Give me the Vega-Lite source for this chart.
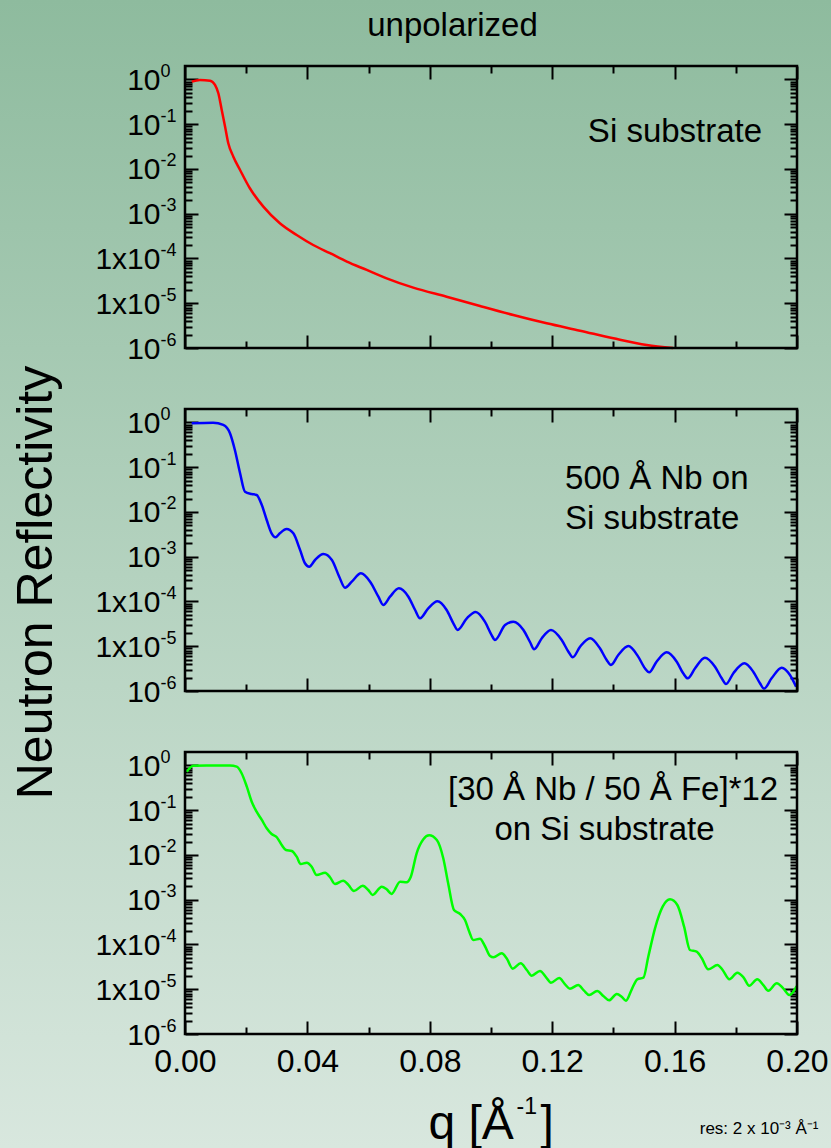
{
  "$schema": "https://vega.github.io/schema/vega-lite/v6.json",
  "width": 831,
  "height": 1148,
  "autosize": {"type": "none"},
  "padding": 0,
  "background": "#b4d2bf",
  "view": {"stroke": null, "fill": {"gradient": "linear", "x1": 0, "y1": 0, "x2": 0, "y2": 1, "stops": [{"offset": 0, "color": "#8ebb9e"}, {"offset": 0.5, "color": "#b4d2bf"}, {"offset": 1, "color": "#d8e7de"}]}},
  "datasets": {
    "si": [
      {"q": 0.0022, "R": 0.893}, {"q": 0.0049, "R": 0.975}, {"q": 0.0082, "R": 0.94}, {"q": 0.0098, "R": 0.753},
      {"q": 0.0109, "R": 0.492}, {"q": 0.012, "R": 0.208}, {"q": 0.0131, "R": 0.0881}, {"q": 0.01415, "R": 0.0375},
      {"q": 0.0158, "R": 0.01884}, {"q": 0.018, "R": 0.0095}, {"q": 0.0212, "R": 0.00371}, {"q": 0.0256, "R": 0.00144},
      {"q": 0.031, "R": 0.000612}, {"q": 0.0365, "R": 0.000335}, {"q": 0.0419, "R": 0.0002}, {"q": 0.0474, "R": 0.000131},
      {"q": 0.0529, "R": 0.0000849}, {"q": 0.0594, "R": 0.0000554}, {"q": 0.0659, "R": 0.0000361}, {"q": 0.0746, "R": 0.0000223},
      {"q": 0.0855, "R": 0.000014}, {"q": 0.0964, "R": 0.00000868}, {"q": 0.1073, "R": 0.00000546}, {"q": 0.1182, "R": 0.00000356},
      {"q": 0.1291, "R": 0.00000244}, {"q": 0.14, "R": 0.00000165}, {"q": 0.1509, "R": 0.00000117}, {"q": 0.1595, "R": 0.000001}
    ],
    "nb": [
      {"q": 0.0022, "R": 0.96}, {"q": 0.0092, "R": 0.99}, {"q": 0.0125, "R": 0.88}, {"q": 0.0147, "R": 0.574},
      {"q": 0.0163, "R": 0.243}, {"q": 0.018, "R": 0.0733}, {"q": 0.0196, "R": 0.0284}, {"q": 0.0218, "R": 0.0252},
      {"q": 0.0234, "R": 0.024}, {"q": 0.0251, "R": 0.0143}, {"q": 0.0267, "R": 0.00662}, {"q": 0.0283, "R": 0.00334},
      {"q": 0.0296, "R": 0.00272}, {"q": 0.031, "R": 0.00334}, {"q": 0.0332, "R": 0.00417}, {"q": 0.0354, "R": 0.00334},
      {"q": 0.0376, "R": 0.00142}, {"q": 0.0392, "R": 0.000714}, {"q": 0.0406, "R": 0.0006}, {"q": 0.0425, "R": 0.000846},
      {"q": 0.0452, "R": 0.00115}, {"q": 0.048, "R": 0.000846}, {"q": 0.0504, "R": 0.000358}, {"q": 0.0523, "R": 0.000203},
      {"q": 0.0545, "R": 0.000277}, {"q": 0.0575, "R": 0.000427}, {"q": 0.0605, "R": 0.000277}, {"q": 0.0632, "R": 0.000128},
      {"q": 0.0648, "R": 0.0000835}, {"q": 0.067, "R": 0.000128}, {"q": 0.0699, "R": 0.000197}, {"q": 0.073, "R": 0.000128},
      {"q": 0.0752, "R": 0.0000646}, {"q": 0.0768, "R": 0.0000421}, {"q": 0.0795, "R": 0.0000705}, {"q": 0.0825, "R": 0.000101},
      {"q": 0.0855, "R": 0.0000646}, {"q": 0.0877, "R": 0.0000326}, {"q": 0.0891, "R": 0.0000231}, {"q": 0.0921, "R": 0.0000421},
      {"q": 0.095, "R": 0.0000582}, {"q": 0.098, "R": 0.0000354}, {"q": 0.1002, "R": 0.0000178}, {"q": 0.1013, "R": 0.0000138},
      {"q": 0.1046, "R": 0.0000299}, {"q": 0.1073, "R": 0.0000354}, {"q": 0.1106, "R": 0.0000231}, {"q": 0.1127, "R": 0.0000126},
      {"q": 0.1141, "R": 0.00000855}, {"q": 0.1166, "R": 0.0000151}, {"q": 0.1196, "R": 0.0000231}, {"q": 0.1231, "R": 0.0000138},
      {"q": 0.1253, "R": 0.00000755}, {"q": 0.1267, "R": 0.00000566}, {"q": 0.1291, "R": 0.00000977}, {"q": 0.1324, "R": 0.0000151},
      {"q": 0.1356, "R": 0.000009}, {"q": 0.1378, "R": 0.00000493}, {"q": 0.1392, "R": 0.00000381}, {"q": 0.1416, "R": 0.00000637},
      {"q": 0.1449, "R": 0.0000101}, {"q": 0.1481, "R": 0.00000585}, {"q": 0.1503, "R": 0.00000322}, {"q": 0.1517, "R": 0.00000262},
      {"q": 0.1541, "R": 0.00000452}, {"q": 0.1574, "R": 0.00000733}, {"q": 0.1607, "R": 0.00000452}, {"q": 0.1628, "R": 0.00000249},
      {"q": 0.1643, "R": 0.00000192}, {"q": 0.1667, "R": 0.00000322}, {"q": 0.1699, "R": 0.00000555}, {"q": 0.1732, "R": 0.00000349},
      {"q": 0.1754, "R": 0.00000192}, {"q": 0.1768, "R": 0.00000143}, {"q": 0.1792, "R": 0.00000249}, {"q": 0.1828, "R": 0.00000416},
      {"q": 0.1857, "R": 0.0000027}, {"q": 0.1879, "R": 0.00000149}, {"q": 0.1892, "R": 0.00000113}, {"q": 0.1917, "R": 0.00000192},
      {"q": 0.195, "R": 0.00000332}, {"q": 0.1977, "R": 0.00000228}, {"q": 0.1997, "R": 0.00000125}
    ],
    "ml": [
      {"q": 0.00056, "R": 0.727}, {"q": 0.0027, "R": 0.99}, {"q": 0.0071, "R": 1.0}, {"q": 0.0147, "R": 1.0},
      {"q": 0.0169, "R": 0.94}, {"q": 0.0185, "R": 0.67}, {"q": 0.0202, "R": 0.336}, {"q": 0.0218, "R": 0.155},
      {"q": 0.0234, "R": 0.0928}, {"q": 0.0251, "R": 0.0606}, {"q": 0.0267, "R": 0.0395}, {"q": 0.0283, "R": 0.0295},
      {"q": 0.03, "R": 0.0249}, {"q": 0.0316, "R": 0.0167}, {"q": 0.033, "R": 0.0129}, {"q": 0.0349, "R": 0.0123},
      {"q": 0.0365, "R": 0.00916}, {"q": 0.0378, "R": 0.00629}, {"q": 0.0398, "R": 0.00673}, {"q": 0.0414, "R": 0.00548},
      {"q": 0.043, "R": 0.00357}, {"q": 0.0458, "R": 0.00402}, {"q": 0.0474, "R": 0.00318}, {"q": 0.049, "R": 0.00225},
      {"q": 0.0517, "R": 0.00267}, {"q": 0.0534, "R": 0.00214}, {"q": 0.0552, "R": 0.00157}, {"q": 0.0581, "R": 0.00206},
      {"q": 0.0599, "R": 0.00165}, {"q": 0.0613, "R": 0.00128}, {"q": 0.0643, "R": 0.00196}, {"q": 0.0659, "R": 0.00171},
      {"q": 0.0675, "R": 0.00135}, {"q": 0.0703, "R": 0.00253}, {"q": 0.0724, "R": 0.00245}, {"q": 0.0738, "R": 0.00327},
      {"q": 0.0757, "R": 0.0109}, {"q": 0.0779, "R": 0.0224}, {"q": 0.0798, "R": 0.0275}, {"q": 0.0823, "R": 0.0216},
      {"q": 0.0844, "R": 0.00844}, {"q": 0.086, "R": 0.00233}, {"q": 0.0879, "R": 0.00059}, {"q": 0.0899, "R": 0.00048},
      {"q": 0.0915, "R": 0.000353}, {"q": 0.0929, "R": 0.000193}, {"q": 0.0942, "R": 0.000126}, {"q": 0.0964, "R": 0.000135},
      {"q": 0.098, "R": 0.0000925}, {"q": 0.0997, "R": 0.0000553}, {"q": 0.1008, "R": 0.0000518}, {"q": 0.1035, "R": 0.0000636},
      {"q": 0.1051, "R": 0.0000492}, {"q": 0.1071, "R": 0.0000288}, {"q": 0.1097, "R": 0.000038}, {"q": 0.1117, "R": 0.0000269},
      {"q": 0.1133, "R": 0.0000201}, {"q": 0.116, "R": 0.0000256}, {"q": 0.118, "R": 0.0000185}, {"q": 0.1196, "R": 0.000014},
      {"q": 0.1223, "R": 0.0000178}, {"q": 0.1242, "R": 0.0000129}, {"q": 0.1258, "R": 0.0000103}, {"q": 0.1285, "R": 0.0000124},
      {"q": 0.1304, "R": 0.00000929}, {"q": 0.1321, "R": 0.00000745}, {"q": 0.1347, "R": 0.00000914}, {"q": 0.1367, "R": 0.00000706},
      {"q": 0.1386, "R": 0.00000566}, {"q": 0.1411, "R": 0.00000783}, {"q": 0.1427, "R": 0.00000682}, {"q": 0.1441, "R": 0.00000555},
      {"q": 0.146, "R": 0.00000997}, {"q": 0.1478, "R": 0.0000167}, {"q": 0.1498, "R": 0.0000181}, {"q": 0.1514, "R": 0.0000534},
      {"q": 0.1536, "R": 0.00023}, {"q": 0.1561, "R": 0.0007}, {"q": 0.1585, "R": 0.00102}, {"q": 0.1609, "R": 0.000763},
      {"q": 0.1631, "R": 0.00025}, {"q": 0.165, "R": 0.0000753}, {"q": 0.1672, "R": 0.000069}, {"q": 0.1689, "R": 0.0000492},
      {"q": 0.171, "R": 0.0000279}, {"q": 0.174, "R": 0.0000348}, {"q": 0.1757, "R": 0.0000269}, {"q": 0.1779, "R": 0.0000167},
      {"q": 0.1805, "R": 0.0000234}, {"q": 0.1825, "R": 0.0000185}, {"q": 0.1844, "R": 0.000012}, {"q": 0.187, "R": 0.0000167},
      {"q": 0.189, "R": 0.0000124}, {"q": 0.1906, "R": 0.00000929}, {"q": 0.1934, "R": 0.0000136}, {"q": 0.1955, "R": 0.0000105},
      {"q": 0.1975, "R": 0.00000745}, {"q": 0.1999, "R": 0.0000118}
    ]
  },
  "layer": [
    {
      "layer": [
        {
          "data": {"name": "si"},
          "mark": {"type": "line", "color": "#ff0000", "strokeWidth": 2.5, "interpolate": "monotone"},
          "encoding": {
            "x": {"field": "q", "type": "quantitative", "scale": {"domain": [0, 0.2], "range": [185, 797], "nice": false, "zero": false},
              "axis": {"orient": "bottom", "offset": -800, "values": [0, 0.02, 0.04, 0.06, 0.08, 0.1, 0.12, 0.14, 0.16, 0.18, 0.2], "tickSize": {"condition": {"test": "abs(datum.value/0.04 - round(datum.value/0.04)) < 0.001", "value": -13}, "value": -7}, "labels": false, "title": null}},
            "y": {"field": "R", "type": "quantitative", "scale": {"type": "log", "domain": [0.000001, 2], "range": [348, 66], "nice": false},
              "axis": {"orient": "left", "offset": -185, "values": [0.000001,0.000002,0.000003,0.000004,0.000005,0.000006,0.000007,0.000008,0.000009,0.00001,0.00002,0.00003,0.00004,0.00005,0.00006,0.00007,0.00008,0.00009,0.0001,0.0002,0.0003,0.0004,0.0005,0.0006,0.0007,0.0008,0.0009,0.001,0.002,0.003,0.004,0.005,0.006,0.007,0.008,0.009,0.01,0.02,0.03,0.04,0.05,0.06,0.07,0.08,0.09,0.1,0.2,0.3,0.4,0.5,0.6,0.7,0.8,0.9,1],
                "tickSize": {"condition": {"test": "abs(log(datum.value)/LN10 - round(log(datum.value)/LN10)) < 0.001", "value": -13}, "value": -7},
                "labelExpr": "abs(log(datum.value)/LN10 - round(log(datum.value)/LN10)) > 0.001 ? '' : ((datum.value > 0.000005 && datum.value < 0.0005) ? '1x10' : '10')",
                "labelAlign": "right", "labelPadding": 38, "labelOffset": 1, "labelFontSize": 30, "title": null}}
          }
        },
        {
          "data": {"name": "si"},
          "mark": {"type": "line", "opacity": 0},
          "encoding": {
            "x": {"field": "q", "type": "quantitative",
              "axis": {"orient": "top", "offset": -66, "values": [0, 0.02, 0.04, 0.06, 0.08, 0.1, 0.12, 0.14, 0.16, 0.18, 0.2], "tickSize": {"condition": {"test": "abs(datum.value/0.04 - round(datum.value/0.04)) < 0.001", "value": -13}, "value": -7}, "labels": false,
                "title": "unpolarized", "titleFontSize": 33, "titleX": 452, "titleY": -31, "titleAlign": "center", "titleBaseline": "alphabetic"}},
            "y": {"field": "R", "type": "quantitative",
              "axis": {"orient": "right", "offset": -34, "values": [0.000001,0.000002,0.000003,0.000004,0.000005,0.000006,0.000007,0.000008,0.000009,0.00001,0.00002,0.00003,0.00004,0.00005,0.00006,0.00007,0.00008,0.00009,0.0001,0.0002,0.0003,0.0004,0.0005,0.0006,0.0007,0.0008,0.0009,0.001,0.002,0.003,0.004,0.005,0.006,0.007,0.008,0.009,0.01,0.02,0.03,0.04,0.05,0.06,0.07,0.08,0.09,0.1,0.2,0.3,0.4,0.5,0.6,0.7,0.8,0.9,1], "tickSize": {"condition": {"test": "abs(log(datum.value)/LN10 - round(log(datum.value)/LN10)) < 0.001", "value": -13}, "value": -7}, "labels": false, "title": null}}
          }
        },
        {
          "data": {"name": "si"},
          "mark": {"type": "line", "opacity": 0},
          "encoding": {
            "x": {"field": "q", "type": "quantitative", "axis": null},
            "y": {"field": "R", "type": "quantitative",
              "axis": {"orient": "left", "offset": -185, "values": [0.000001,0.00001,0.0001,0.001,0.01,0.1,1], "tickSize": -13, "tickOpacity": 0,
                "labelExpr": "'' + round(log(datum.value)/LN10)", "labelAlign": "left", "labelPadding": 38, "labelOffset": -8, "labelFontSize": 18, "title": null}}
          }
        },
        {
          "data": {"values": [{"q": 0.1886, "R": 0.0403, "t": "Si substrate"}]},
          "mark": {"type": "text", "fontSize": 33, "align": "right", "baseline": "alphabetic", "color": "black"},
          "encoding": {
            "x": {"field": "q", "type": "quantitative", "axis": null},
            "y": {"field": "R", "type": "quantitative", "axis": null},
            "text": {"field": "t"}
          }
        },
        {
          "data": {"values": [{}]},
          "mark": {"type": "rect", "fill": null, "stroke": "black", "strokeWidth": 2.5},
          "encoding": {
            "x": {"datum": 0, "type": "quantitative", "axis": null}, "x2": {"datum": 0.2},
            "y": {"datum": 0.000001, "type": "quantitative", "axis": null}, "y2": {"datum": 2}
          }
        }
      ],
      "resolve": {"axis": {"x": "independent", "y": "independent"}}
    },
    {
      "layer": [
        {
          "data": {"name": "nb"},
          "mark": {"type": "line", "color": "#0000ff", "strokeWidth": 2.5, "interpolate": "monotone"},
          "encoding": {
            "x": {"field": "q", "type": "quantitative", "scale": {"domain": [0, 0.2], "range": [185, 797], "nice": false, "zero": false},
              "axis": {"orient": "bottom", "offset": -457, "values": [0, 0.02, 0.04, 0.06, 0.08, 0.1, 0.12, 0.14, 0.16, 0.18, 0.2], "tickSize": {"condition": {"test": "abs(datum.value/0.04 - round(datum.value/0.04)) < 0.001", "value": -13}, "value": -7}, "labels": false, "title": null}},
            "y": {"field": "R", "type": "quantitative", "scale": {"type": "log", "domain": [0.000001, 2], "range": [691, 409], "nice": false},
              "axis": {"orient": "left", "offset": -185, "values": [0.000001,0.000002,0.000003,0.000004,0.000005,0.000006,0.000007,0.000008,0.000009,0.00001,0.00002,0.00003,0.00004,0.00005,0.00006,0.00007,0.00008,0.00009,0.0001,0.0002,0.0003,0.0004,0.0005,0.0006,0.0007,0.0008,0.0009,0.001,0.002,0.003,0.004,0.005,0.006,0.007,0.008,0.009,0.01,0.02,0.03,0.04,0.05,0.06,0.07,0.08,0.09,0.1,0.2,0.3,0.4,0.5,0.6,0.7,0.8,0.9,1],
                "tickSize": {"condition": {"test": "abs(log(datum.value)/LN10 - round(log(datum.value)/LN10)) < 0.001", "value": -13}, "value": -7},
                "labelExpr": "abs(log(datum.value)/LN10 - round(log(datum.value)/LN10)) > 0.001 ? '' : ((datum.value > 0.000005 && datum.value < 0.0005) ? '1x10' : '10')",
                "labelAlign": "right", "labelPadding": 38, "labelOffset": 1, "labelFontSize": 30,
                "title": "Neutron Reflectivity", "titleFontSize": 50, "titleX": -134, "titleY": 582, "titleAngle": 270, "titleAlign": "center", "titleBaseline": "alphabetic"}}
          }
        },
        {
          "data": {"name": "nb"},
          "mark": {"type": "line", "opacity": 0},
          "encoding": {
            "x": {"field": "q", "type": "quantitative",
              "axis": {"orient": "top", "offset": -409, "values": [0, 0.02, 0.04, 0.06, 0.08, 0.1, 0.12, 0.14, 0.16, 0.18, 0.2], "tickSize": {"condition": {"test": "abs(datum.value/0.04 - round(datum.value/0.04)) < 0.001", "value": -13}, "value": -7}, "labels": false, "title": null}},
            "y": {"field": "R", "type": "quantitative",
              "axis": {"orient": "right", "offset": -34, "values": [0.000001,0.000002,0.000003,0.000004,0.000005,0.000006,0.000007,0.000008,0.000009,0.00001,0.00002,0.00003,0.00004,0.00005,0.00006,0.00007,0.00008,0.00009,0.0001,0.0002,0.0003,0.0004,0.0005,0.0006,0.0007,0.0008,0.0009,0.001,0.002,0.003,0.004,0.005,0.006,0.007,0.008,0.009,0.01,0.02,0.03,0.04,0.05,0.06,0.07,0.08,0.09,0.1,0.2,0.3,0.4,0.5,0.6,0.7,0.8,0.9,1], "tickSize": {"condition": {"test": "abs(log(datum.value)/LN10 - round(log(datum.value)/LN10)) < 0.001", "value": -13}, "value": -7}, "labels": false, "title": null}}
          }
        },
        {
          "data": {"name": "nb"},
          "mark": {"type": "line", "opacity": 0},
          "encoding": {
            "x": {"field": "q", "type": "quantitative", "axis": null},
            "y": {"field": "R", "type": "quantitative",
              "axis": {"orient": "left", "offset": -185, "values": [0.000001,0.00001,0.0001,0.001,0.01,0.1,1], "tickSize": -13, "tickOpacity": 0,
                "labelExpr": "'' + round(log(datum.value)/LN10)", "labelAlign": "left", "labelPadding": 38, "labelOffset": -8, "labelFontSize": 18, "title": null}}
          }
        },
        {
          "data": {"values": [{"q": 0.1242, "R": 0.0328, "t": "500 Å Nb on"}, {"q": 0.1242, "R": 0.0042, "t": "Si substrate"}]},
          "mark": {"type": "text", "fontSize": 33, "align": "left", "baseline": "alphabetic", "color": "black"},
          "encoding": {
            "x": {"field": "q", "type": "quantitative", "axis": null},
            "y": {"field": "R", "type": "quantitative", "axis": null},
            "text": {"field": "t"}
          }
        },
        {
          "data": {"values": [{}]},
          "mark": {"type": "rect", "fill": null, "stroke": "black", "strokeWidth": 2.5},
          "encoding": {
            "x": {"datum": 0, "type": "quantitative", "axis": null}, "x2": {"datum": 0.2},
            "y": {"datum": 0.000001, "type": "quantitative", "axis": null}, "y2": {"datum": 2}
          }
        }
      ],
      "resolve": {"axis": {"x": "independent", "y": "independent"}}
    },
    {
      "layer": [
        {
          "data": {"name": "ml"},
          "mark": {"type": "line", "color": "#00ff00", "strokeWidth": 2.5, "interpolate": "monotone"},
          "encoding": {
            "x": {"field": "q", "type": "quantitative", "scale": {"domain": [0, 0.2], "range": [185, 797], "nice": false, "zero": false},
              "axis": {"orient": "bottom", "offset": -114, "values": [0, 0.02, 0.04, 0.06, 0.08, 0.1, 0.12, 0.14, 0.16, 0.18, 0.2], "tickSize": {"condition": {"test": "abs(datum.value/0.04 - round(datum.value/0.04)) < 0.001", "value": -13}, "value": -7},
                "labelExpr": "abs(datum.value/0.04 - round(datum.value/0.04)) < 0.001 ? format(datum.value, '.2f') : ''",
                "labelPadding": 25, "labelFontSize": 32,
                "title": "q [Å", "titleFontSize": 48, "titleX": 428, "titleY": 104, "titleAlign": "left", "titleBaseline": "alphabetic"}},
            "y": {"field": "R", "type": "quantitative", "scale": {"type": "log", "domain": [0.000001, 2], "range": [1034, 752], "nice": false},
              "axis": {"orient": "left", "offset": -185, "values": [0.000001,0.000002,0.000003,0.000004,0.000005,0.000006,0.000007,0.000008,0.000009,0.00001,0.00002,0.00003,0.00004,0.00005,0.00006,0.00007,0.00008,0.00009,0.0001,0.0002,0.0003,0.0004,0.0005,0.0006,0.0007,0.0008,0.0009,0.001,0.002,0.003,0.004,0.005,0.006,0.007,0.008,0.009,0.01,0.02,0.03,0.04,0.05,0.06,0.07,0.08,0.09,0.1,0.2,0.3,0.4,0.5,0.6,0.7,0.8,0.9,1],
                "tickSize": {"condition": {"test": "abs(log(datum.value)/LN10 - round(log(datum.value)/LN10)) < 0.001", "value": -13}, "value": -7},
                "labelExpr": "abs(log(datum.value)/LN10 - round(log(datum.value)/LN10)) > 0.001 ? '' : ((datum.value > 0.000005 && datum.value < 0.0005) ? '1x10' : '10')",
                "labelAlign": "right", "labelPadding": 38, "labelOffset": 1, "labelFontSize": 30, "title": null}}
          }
        },
        {
          "data": {"name": "ml"},
          "mark": {"type": "line", "opacity": 0},
          "encoding": {
            "x": {"field": "q", "type": "quantitative",
              "axis": {"orient": "top", "offset": -752, "values": [0, 0.02, 0.04, 0.06, 0.08, 0.1, 0.12, 0.14, 0.16, 0.18, 0.2], "tickSize": {"condition": {"test": "abs(datum.value/0.04 - round(datum.value/0.04)) < 0.001", "value": -13}, "value": -7}, "labels": false,
                "title": "res: 2 x 10⁻³ Å⁻¹", "titleFontSize": 17, "titleX": 818, "titleY": 381, "titleAlign": "right", "titleBaseline": "alphabetic"}},
            "y": {"field": "R", "type": "quantitative",
              "axis": {"orient": "right", "offset": -34, "values": [0.000001,0.000002,0.000003,0.000004,0.000005,0.000006,0.000007,0.000008,0.000009,0.00001,0.00002,0.00003,0.00004,0.00005,0.00006,0.00007,0.00008,0.00009,0.0001,0.0002,0.0003,0.0004,0.0005,0.0006,0.0007,0.0008,0.0009,0.001,0.002,0.003,0.004,0.005,0.006,0.007,0.008,0.009,0.01,0.02,0.03,0.04,0.05,0.06,0.07,0.08,0.09,0.1,0.2,0.3,0.4,0.5,0.6,0.7,0.8,0.9,1], "tickSize": {"condition": {"test": "abs(log(datum.value)/LN10 - round(log(datum.value)/LN10)) < 0.001", "value": -13}, "value": -7}, "labels": false,
                "title": "]", "titleFontSize": 48, "titleAngle": 0, "titleX": -257, "titleY": 1138, "titleAlign": "left", "titleBaseline": "alphabetic"}}
          }
        },
        {
          "data": {"name": "ml"},
          "mark": {"type": "line", "opacity": 0},
          "encoding": {
            "x": {"field": "q", "type": "quantitative", "axis": null},
            "y": {"field": "R", "type": "quantitative",
              "axis": {"orient": "left", "offset": -185, "values": [0.000001,0.00001,0.0001,0.001,0.01,0.1,1], "tickSize": -13, "tickOpacity": 0,
                "labelExpr": "'' + round(log(datum.value)/LN10)", "labelAlign": "left", "labelPadding": 38, "labelOffset": -8, "labelFontSize": 18,
                "title": "-1", "titleFontSize": 23, "titleAngle": 0, "titleX": 331, "titleY": 1113, "titleAlign": "left", "titleBaseline": "alphabetic"}}
          }
        },
        {
          "data": {"values": [{"q": 0.1399, "R": 0.17, "t": "[30 Å Nb / 50 Å Fe]*12"}, {"q": 0.1371, "R": 0.0217, "t": "on Si substrate"}]},
          "mark": {"type": "text", "fontSize": 33, "align": "center", "baseline": "alphabetic", "color": "black"},
          "encoding": {
            "x": {"field": "q", "type": "quantitative", "axis": null},
            "y": {"field": "R", "type": "quantitative", "axis": null},
            "text": {"field": "t"}
          }
        },
        {
          "data": {"values": [{}]},
          "mark": {"type": "rect", "fill": null, "stroke": "black", "strokeWidth": 2.5},
          "encoding": {
            "x": {"datum": 0, "type": "quantitative", "axis": null}, "x2": {"datum": 0.2},
            "y": {"datum": 0.000001, "type": "quantitative", "axis": null}, "y2": {"datum": 2}
          }
        }
      ],
      "resolve": {"axis": {"x": "independent", "y": "independent"}}
    }
  ],
  "resolve": {"scale": {"y": "independent"}, "axis": {"x": "independent", "y": "independent"}},
  "config": {
    "font": "Liberation Sans",
    "axis": {"domain": false, "grid": false, "ticks": true, "tickColor": "black", "tickWidth": 2, "labelColor": "black", "titleColor": "black", "titleFontWeight": "normal", "labelFlush": false, "labelOverlap": false, "labelFont": "Liberation Sans", "titleFont": "Liberation Sans"},
    "text": {"font": "Liberation Sans"}
  }
}
